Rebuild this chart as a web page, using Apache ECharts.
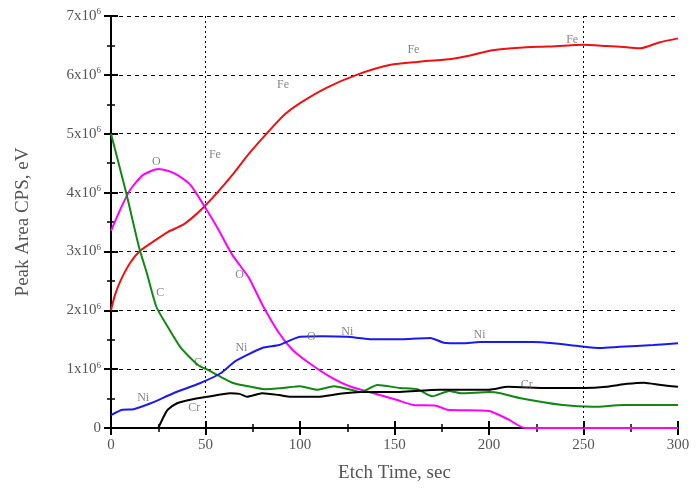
<!DOCTYPE html>
<html>
<head>
<meta charset="utf-8">
<script src="https://cdn.jsdelivr.net/npm/echarts@6/dist/echarts.min.js"></script>
<style>
  html, body { margin: 0; padding: 0; background: #fff; }
  #chart { width: 699px; height: 493px; }
</style>
</head>
<body>
<div id="chart"></div>
<script>
// values in units of 1x10^6
var feT = [0, 2, 5, 10, 15, 22, 30, 38, 44, 49, 56, 65, 73, 84, 92, 100, 114, 130, 148, 162, 180, 190, 202, 220, 231, 250, 262, 273, 280, 290, 300];
var feV = [2.0, 2.25, 2.5, 2.8, 3.0, 3.16, 3.33, 3.45, 3.6, 3.75, 3.99, 4.33, 4.66, 5.06, 5.33, 5.52, 5.78, 6.0, 6.17, 6.22, 6.27, 6.33, 6.42, 6.47, 6.48, 6.51, 6.49, 6.47, 6.45, 6.55, 6.62];

var oT = [0, 5, 10, 17, 25, 30, 35, 42, 49, 56, 64, 73, 80, 89, 96, 105, 116, 127, 139, 151, 160, 172, 178, 200, 210, 219, 300];
var oV = [3.35, 3.72, 4.04, 4.3, 4.4, 4.37, 4.3, 4.13, 3.79, 3.42, 2.95, 2.55, 2.1, 1.61, 1.33, 1.10, 0.87, 0.70, 0.59, 0.48, 0.39, 0.38, 0.31, 0.29, 0.15, 0, 0];

var cT = [0, 8, 15, 19, 24, 30, 37, 46, 51, 58, 65, 74, 81, 91, 100, 109, 118, 127, 132, 141, 153, 162, 170, 179, 185, 200, 206, 216, 239, 255, 271, 300];
var cV = [5.0, 4.0, 3.05, 2.63, 2.06, 1.72, 1.36, 1.07, 0.99, 0.87, 0.76, 0.70, 0.66, 0.68, 0.71, 0.65, 0.71, 0.65, 0.61, 0.73, 0.68, 0.66, 0.54, 0.63, 0.59, 0.61, 0.59, 0.51, 0.39, 0.36, 0.39, 0.39];

var niT = [0, 6, 12, 21, 33, 47, 58, 66, 80, 89, 100, 112, 125, 137, 155, 169, 176, 186, 195, 223, 234, 248, 259, 269, 287, 300];
var niV = [0.22, 0.31, 0.32, 0.42, 0.59, 0.76, 0.93, 1.14, 1.36, 1.41, 1.55, 1.56, 1.55, 1.51, 1.51, 1.53, 1.45, 1.44, 1.46, 1.46, 1.44, 1.39, 1.36, 1.38, 1.41, 1.44];

var crT = [25, 28, 30, 35, 42, 51, 63, 68, 72, 80, 89, 95, 109, 121, 132, 148, 174, 200, 210, 231, 250, 262, 273, 282, 291, 300];
var crV = [0, 0.2, 0.31, 0.42, 0.48, 0.53, 0.59, 0.58, 0.53, 0.59, 0.56, 0.53, 0.53, 0.58, 0.61, 0.61, 0.65, 0.65, 0.70, 0.68, 0.68, 0.70, 0.75, 0.77, 0.73, 0.70];

// curve labels: [text, time, value]
var curveLabels = [
  ['Fe', 55, 4.64], ['Fe', 91, 5.83], ['Fe', 160, 6.42], ['Fe', 244, 6.59],
  ['O', 24, 4.52], ['O', 68, 2.6], ['O', 106, 1.55],
  ['C', 26, 2.29], ['C', 46, 1.1],
  ['Ni', 17, 0.51], ['Ni', 69, 1.36], ['Ni', 125, 1.63], ['Ni', 195, 1.58],
  ['Cr', 44, 0.34], ['Cr', 220, 0.73]
];

var xTicks = [0, 50, 100, 150, 200, 250, 300];
var gridX = [50, 250];

function pairs(t, v) {
  return t.map(function (x, i) { return [x, v[i]]; });
}

var font = '"Liberation Serif", "DejaVu Serif", serif';
var textGray = '#555';

var myChart = echarts.init(document.getElementById('chart'));

function lineSeries(name, t, v, color) {
  return {
    name: name,
    type: 'line',
    data: pairs(t, v),
    showSymbol: false,
    smooth: 0.2,
    lineStyle: { color: color, width: 2 },
    itemStyle: { color: color },
    z: 3
  };
}

var option = {
  animation: false,
  backgroundColor: '#fff',
  grid: { left: 111, top: 16, right: 21, bottom: 65 },
  xAxis: [{
    type: 'value',
    min: 0, max: 300, interval: 50,
    name: 'Etch Time, sec',
    nameLocation: 'middle',
    nameGap: 36,
    nameTextStyle: { fontFamily: font, fontSize: 19, color: textGray },
    axisLine: { lineStyle: { color: '#000', width: 2 } },
    axisTick: { inside: true, length: 7, lineStyle: { color: '#000', width: 2 } },
    minorTick: { show: true, splitNumber: 2, length: 4, lineStyle: { color: '#000', width: 1.5 } },
    axisLabel: { fontFamily: font, fontSize: 15, color: textGray, margin: 10,
      formatter: function (v) { return xTicks.indexOf(v) >= 0 ? String(v) : ''; } },
    splitLine: { show: false }
  }, {
    type: 'value',
    position: 'top',
    min: 0, max: 300, interval: 50,
    axisLine: { lineStyle: { color: '#000', width: 2 } },
    axisTick: { inside: true, length: 7, lineStyle: { color: '#000', width: 2 } },
    minorTick: { show: true, splitNumber: 2, length: 4, lineStyle: { color: '#000', width: 1.5 } },
    axisLabel: { show: false },
    splitLine: { show: false }
  }],
  yAxis: [{
    type: 'value',
    min: 0, max: 7, interval: 1,
    name: 'Peak Area CPS, eV',
    nameLocation: 'middle',
    nameGap: 78,
    nameTextStyle: { fontFamily: font, fontSize: 19, color: textGray },
    axisLine: { lineStyle: { color: '#000', width: 2 } },
    axisTick: { inside: true, length: 7, lineStyle: { color: '#000', width: 2 } },
    minorTick: { show: true, splitNumber: 2, length: 4, lineStyle: { color: '#000', width: 1.5 } },
    axisLabel: {
      fontFamily: font, fontSize: 15, color: textGray, margin: 10,
      formatter: function (v) { return v === 0 ? '0' : v + 'x10{sup|6}'; },
      rich: { sup: { fontFamily: font, fontSize: 9, color: textGray, verticalAlign: 'top', padding: [0, 0, 8, 0] } }
    },
    splitLine: { show: true, lineStyle: { color: '#000', type: [4, 4], width: 1 } }
  }, {
    type: 'value',
    position: 'right',
    min: 0, max: 7, interval: 1,
    axisLine: { show: true, lineStyle: { color: '#000', width: 2 } },
    axisTick: { show: true, inside: true, length: 7, lineStyle: { color: '#000', width: 2 } },
    minorTick: { show: true, splitNumber: 2, length: 4, lineStyle: { color: '#000', width: 1.5 } },
    axisLabel: { show: false },
    splitLine: { show: false }
  }],
  series: [
    lineSeries('Fe', feT, feV, '#ee1111'),
    lineSeries('O', oT, oV, '#ff00ff'),
    lineSeries('C', cT, cV, '#118811'),
    lineSeries('Ni', niT, niV, '#1a1aee'),
    lineSeries('Cr', crT, crV, '#000000'),
    {
      type: 'line',
      data: [],
      silent: true,
      markLine: {
        symbol: 'none',
        silent: true,
        label: { show: false },
        lineStyle: { color: '#000', type: [2, 3], width: 1 },
        data: gridX.map(function (x) { return { xAxis: x }; })
      }
    },
    {
      type: 'scatter',
      symbolSize: 0,
      silent: true,
      data: curveLabels.map(function (d) { return { value: [d[1], d[2]], name: d[0] }; }),
      label: {
        show: true,
        position: 'inside',
        formatter: '{b}',
        fontFamily: font,
        fontSize: 12,
        color: '#666'
      },
      z: 5
    }
  ]
};
myChart.setOption(option);
</script>
</body>
</html>
